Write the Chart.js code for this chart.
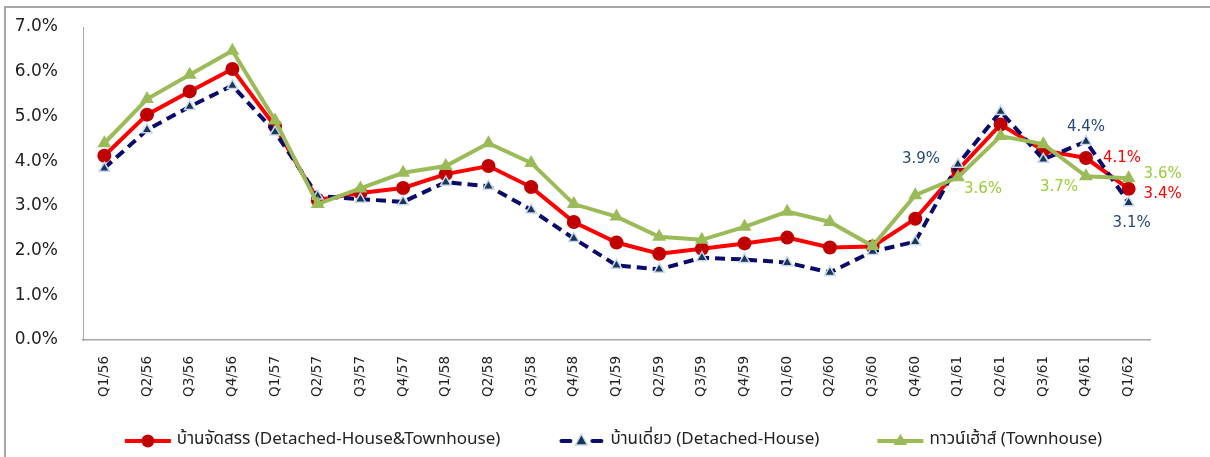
<!DOCTYPE html>
<html>
<head>
<meta charset="utf-8">
<script src="https://cdn.jsdelivr.net/npm/chart.js@4/dist/chart.umd.min.js"></script>
<style>
  html, body { margin: 0; padding: 0; background: #ffffff; }
  #wrap { width: 1210px; height: 457px; position: relative; }
</style>
</head>
<body>
<div id="wrap"><canvas id="c" width="1210" height="457"></canvas></div>
<script>
const categories = ['Q1/56','Q2/56','Q3/56','Q4/56','Q1/57','Q2/57','Q3/57','Q4/57','Q1/58','Q2/58','Q3/58','Q4/58','Q1/59','Q2/59','Q3/59','Q4/59','Q1/60','Q2/60','Q3/60','Q4/60','Q1/61','Q2/61','Q3/61','Q4/61','Q1/62'];
const seriesNames = ['บ้านจัดสรร (Detached-House&Townhouse)', 'บ้านเดี่ยว (Detached-House)', 'ทาวน์เฮ้าส์ (Townhouse)'];
const housingAll = [4.12,5.04,5.56,6.06,4.78,3.13,3.29,3.40,3.71,3.89,3.42,2.64,2.18,1.93,2.04,2.16,2.29,2.07,2.09,2.71,3.80,4.82,4.24,4.07,3.38];
const detached   = [3.84,4.70,5.22,5.69,4.65,3.22,3.15,3.09,3.53,3.44,2.91,2.27,1.67,1.58,1.84,1.80,1.73,1.51,1.98,2.20,3.93,5.11,4.04,4.44,3.07];
const townhouse  = [4.40,5.39,5.93,6.47,4.91,3.04,3.39,3.74,3.89,4.40,3.96,3.04,2.76,2.31,2.24,2.53,2.87,2.64,2.10,3.24,3.64,4.56,4.38,3.66,3.62];
const yTicks = [0,1,2,3,4,5,6,7];

const TICK_FONT = "'DejaVu Sans','Noto Sans Thai',sans-serif";
const LEG_FONT = "'Noto Sans Thai','Noto Sans',sans-serif";
const RED = '#FF0000', RED_M = '#C00000';
const NAVY = '#0B0B6B', NAVY_M = '#1B3556', NAVY_B = '#C6D9F1';
const GREEN = '#9BBB59';

function drawLegendSymbol(x, kind, sx, sy) {
  x.save();
  x.lineWidth = 4;
  if (kind === 0) {
    x.strokeStyle = RED; x.beginPath(); x.moveTo(sx, sy); x.lineTo(sx + 46, sy); x.stroke();
    x.fillStyle = RED_M; x.beginPath(); x.arc(sx + 23, sy, 6.5, 0, Math.PI * 2); x.fill();
  } else if (kind === 1) {
    x.strokeStyle = NAVY; x.lineCap = 'round';
    x.beginPath(); x.moveTo(sx + 3, sy); x.lineTo(sx + 12, sy); x.stroke();
    x.beginPath(); x.moveTo(sx + 34, sy); x.lineTo(sx + 43, sy); x.stroke();
    x.fillStyle = NAVY_M; x.strokeStyle = NAVY_B; x.lineWidth = 1.5;
    x.beginPath(); x.moveTo(sx + 23, sy - 7); x.lineTo(sx + 29, sy + 4); x.lineTo(sx + 17, sy + 4); x.closePath(); x.fill(); x.stroke();
  } else {
    x.strokeStyle = GREEN; x.beginPath(); x.moveTo(sx, sy); x.lineTo(sx + 46, sy); x.stroke();
    x.fillStyle = GREEN; x.beginPath(); x.moveTo(sx + 23, sy - 7); x.lineTo(sx + 30, sy + 4); x.lineTo(sx + 16, sy + 4); x.closePath(); x.fill();
  }
  x.restore();
}

const pointLabels = [
  { ds: 1, idx: 20, dx: -37, dy: -5, color: '#1F497D' },
  { ds: 2, idx: 20, dx: 25, dy: 12, color: '#99CC33' },
  { ds: 2, idx: 23, dx: -27, dy: 11, color: '#99CC33' },
  { ds: 1, idx: 23, dx: 0, dy: -14, color: '#1F497D' },
  { ds: 0, idx: 23, dx: 36, dy: 0, color: '#FF0000' },
  { ds: 2, idx: 24, dx: 34, dy: -4, color: '#99CC33' },
  { ds: 0, idx: 24, dx: 34, dy: 5, color: '#FF0000' },
  { ds: 1, idx: 24, dx: 3, dy: 20, color: '#1F497D' }
];

const framePlugin = {
  id: 'frame',
  beforeDraw(chart) {
    const ctx = chart.ctx;
    ctx.save();
    ctx.fillStyle = '#ffffff';
    ctx.fillRect(0, 0, chart.width, chart.height);
    ctx.strokeStyle = '#A6A6A6';
    ctx.lineWidth = 2;
    ctx.beginPath();
    ctx.moveTo(5, chart.height); ctx.lineTo(5, 7); ctx.lineTo(chart.width, 7);
    ctx.stroke();
    ctx.restore();
  }
};

const labelPlugin = {
  id: 'pointLabels',
  afterDatasetsDraw(chart) {
    const ctx = chart.ctx;
    ctx.save();
    ctx.font = "15px " + TICK_FONT;
    ctx.textAlign = 'center';
    ctx.textBaseline = 'middle';
    pointLabels.forEach(l => {
      const el = chart.getDatasetMeta(l.ds).data[l.idx];
      const v = chart.data.datasets[l.ds].data[l.idx];
      ctx.fillStyle = l.color;
      ctx.fillText(v.toFixed(1) + '%', el.x + l.dx, el.y + l.dy);
    });
    ctx.restore();
  }
};

const legendPlugin = {
  id: 'lineLegend',
  afterDraw(chart) {
    const ctx = chart.ctx;
    const ca = chart.chartArea;
    ctx.save();
    ctx.font = "17px " + LEG_FONT;
    ctx.textBaseline = 'middle';
    ctx.fillStyle = '#222';
    const symW = 46, symGap = 6, itemGap = 58;
    const items = chart.data.datasets.map((d, i) => ({ text: d.label, kind: i, w: symW + symGap + ctx.measureText(d.label).width }));
    const total = items.reduce((s, it) => s + it.w, 0) + itemGap * (items.length - 1);
    let x = (ca.left + ca.right) / 2 - total / 2 - 3;
    const y = 441;
    items.forEach(it => {
      drawLegendSymbol(ctx, it.kind, x, y);
      ctx.fillText(it.text, x + symW + symGap, y);
      x += it.w + itemGap;
    });
    ctx.restore();
  }
};

new Chart(document.getElementById('c'), {
  type: 'line',
  data: {
    labels: categories,
    datasets: [
      { label: seriesNames[0], data: housingAll, borderColor: RED, borderWidth: 4,
        pointStyle: 'circle', pointRadius: 7, pointBackgroundColor: RED_M, pointBorderColor: RED_M, pointBorderWidth: 0,
        order: 3, tension: 0 },
      { label: seriesNames[1], data: detached, borderColor: NAVY, borderWidth: 4, borderDash: [10, 6],
        pointStyle: 'triangle', pointRadius: 6, pointBackgroundColor: NAVY_M, pointBorderColor: NAVY_B, pointBorderWidth: 1.5,
        order: 2, tension: 0 },
      { label: seriesNames[2], data: townhouse, borderColor: GREEN, borderWidth: 4,
        pointStyle: 'triangle', pointRadius: 8, pointBackgroundColor: GREEN, pointBorderColor: GREEN, pointBorderWidth: 0,
        order: 1, tension: 0 }
    ]
  },
  options: {
    responsive: false,
    animation: false,
    layout: { padding: { left: 8, right: 60, top: 27, bottom: 0 } },
    plugins: {
      tooltip: { enabled: false },
      legend: { display: false }
    },
    scales: {
      x: {
        offset: true,
        grid: { display: true, color: 'transparent', drawTicks: false },
        border: { display: true, color: '#A6A6A6', width: 1.5 },
        ticks: { color: '#222', font: { family: TICK_FONT, size: 13.5 }, minRotation: 90, maxRotation: 90, padding: 16, autoSkip: false },
        afterFit(scale) { scale.height = 117; }
      },
      y: {
        min: 0, max: 7,
        afterBuildTicks(scale) { scale.ticks = yTicks.map(v => ({ value: v })); },
        grid: { display: true, color: 'transparent', drawTicks: true, tickLength: 21 },
        border: { display: true, color: '#A6A6A6', width: 1, dash: [3, 3] },
        ticks: { color: '#222', font: { family: TICK_FONT, size: 17 }, padding: 4,
          callback: v => Number(v).toFixed(1) + '%' },
        afterFit(scale) { scale.width = 75; }
      }
    }
  },
  plugins: [framePlugin, labelPlugin, legendPlugin]
});
</script>
</body>
</html>
